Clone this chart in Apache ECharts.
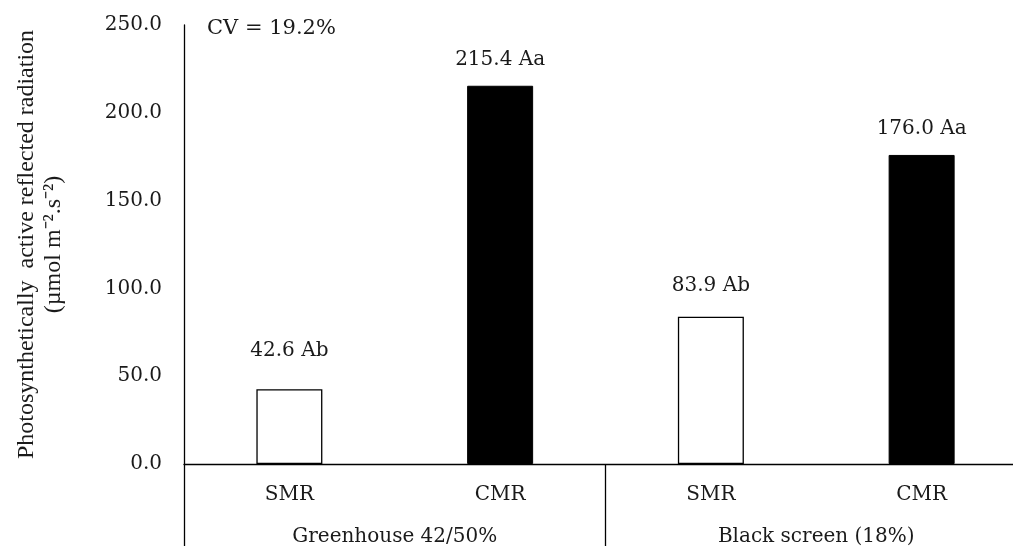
<!DOCTYPE html>
<html>
<head>
<meta charset="utf-8">
<script src="https://cdn.jsdelivr.net/npm/echarts@6/dist/echarts.min.js"></script>
<style>
  html, body { margin: 0; padding: 0; background: #fff; }
  #chart { width: 1013px; height: 546px; }
</style>
</head>
<body>
<div id="chart"></div>
<script>
// Reflected PAR under two cultivation environments, with and without reflective mulch
const treatments = ['SMR', 'CMR', 'SMR', 'CMR'];
const environments = ['Greenhouse 42/50%', 'Black screen (18%)'];
const reflectedPAR = [42.6, 215.4, 83.9, 176.0];
const letters = ['Ab', 'Aa', 'Ab', 'Aa'];
const yTicks = [0, 50, 100, 150, 200, 250];
const cvText = 'CV = 19.2%';

// label distance above each bar (px)
const labelGaps = [28, 16, 21, 16];

const serif = '"DejaVu Serif", "Liberation Serif", serif';
const ink = '#1a1a1a';

const chart = echarts.init(document.getElementById('chart'));

chart.setOption({
  animation: false,
  backgroundColor: '#fff',
  grid: { left: 184, top: 25, width: 843, height: 439, outerBoundsMode: 'none', containLabel: false },
  xAxis: [
    {
      type: 'category',
      data: treatments,
      axisLine: { lineStyle: { color: '#000', width: 1.3 } },
      axisTick: { show: false },
      axisLabel: { color: ink, fontFamily: serif, fontSize: 20, margin: 21 }
    },
    {
      type: 'category',
      data: environments,
      position: 'bottom',
      axisLine: { show: false },
      axisTick: { show: true, length: 90, lineStyle: { color: '#000', width: 1.3 } },
      axisLabel: { color: ink, fontFamily: serif, fontSize: 20, margin: 63 }
    }
  ],
  yAxis: {
    type: 'value',
    min: yTicks[0],
    max: yTicks[yTicks.length - 1],
    interval: yTicks[1] - yTicks[0],
    splitLine: { show: false },
    axisLine: { show: true, lineStyle: { color: '#000', width: 1.3 } },
    axisTick: { show: false },
    axisLabel: {
      color: ink, fontFamily: serif, fontSize: 20, margin: 22,
      formatter: v => v.toFixed(1)
    },
    name: 'Photosynthetically  active reflected radiation\n(µmol m⁻².s⁻²)',
    nameLocation: 'middle',
    nameRotate: 90,
    nameGap: 117,
    nameTextStyle: {
      color: ink, fontFamily: '"Liberation Serif", serif', fontSize: 24, lineHeight: 27
    }
  },
  series: [{
    type: 'bar',
    xAxisIndex: 0,
    barWidth: 66,
    data: reflectedPAR.map((v, i) => ({
      value: v,
      itemStyle: i % 2 === 0
        ? { color: '#fff', borderColor: '#000', borderWidth: 1.3 }
        : { color: '#000', borderColor: '#000', borderWidth: 1 },
      label: { distance: labelGaps[i] }
    })),
    label: {
      show: true,
      position: 'top',
      color: ink,
      fontFamily: serif,
      fontSize: 20,
      formatter: p => p.value.toFixed(1) + ' ' + letters[p.dataIndex]
    }
  }],
  graphic: [{
    type: 'text',
    left: 207,
    top: 18,
    style: { text: cvText, fill: ink, font: '21px ' + serif }
  }]
});
</script>
</body>
</html>
